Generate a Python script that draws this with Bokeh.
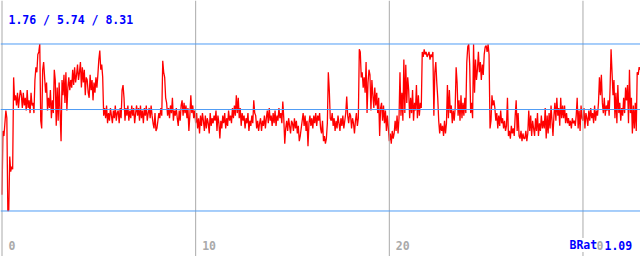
import numpy as np
from bokeh.plotting import figure
from bokeh.models import Range1d, Span, Label
from bokeh.embed import file_html
from bokeh.resources import INLINE

# BRat series, 20 samples per unit of x (step 0.05)
unit_values = [
    [2.4, 4.9, 4.7, 5.2, 5.7, 5.4, 1.76, 1.8, 3.9, 3.3, 3.5, 3.4, 7.0, 6.1, 6.3, 5.9, 6.4, 5.8, 6.2, 6.5],
    [6.3, 5.8, 6.4, 5.9, 6.2, 5.7, 6.5, 5.8, 6.1, 5.6, 6.4, 5.9, 6.0, 5.6, 6.9, 7.4, 7.2, 7.9, 8.0, 8.31],
    [5.3, 5.0, 7.3, 7.6, 7.0, 6.4, 6.8, 5.7, 6.2, 5.8, 6.5, 5.4, 6.1, 5.6, 7.3, 6.9, 5.1, 6.6, 5.3, 6.8],
    [5.6, 4.5, 6.9, 6.3, 7.1, 6.0, 7.2, 5.7, 6.6, 7.0, 6.5, 6.9, 6.6, 7.3, 6.7, 7.4, 6.8, 7.1, 7.5, 6.9],
    [7.2, 7.6, 6.6, 7.4, 6.8, 7.3, 6.3, 7.0, 6.9, 6.4, 6.2, 7.1, 6.5, 6.9, 6.1, 6.8, 6.4, 7.0, 6.6, 7.1],
    [7.7, 8.05, 7.3, 7.5, 7.0, 5.5, 5.8, 5.4, 5.9, 5.2, 5.6, 5.3, 5.8, 5.5, 5.2, 5.7, 5.4, 5.9, 5.3, 5.6],
    [5.7, 5.2, 5.8, 5.4, 6.5, 6.7, 6.2, 5.3, 5.8, 5.5, 5.9, 5.3, 5.7, 5.4, 5.9, 5.5, 5.8, 5.2, 5.6, 5.9],
    [5.5, 5.8, 5.3, 5.9, 5.4, 5.7, 5.2, 5.8, 5.5, 5.9, 5.3, 5.6, 5.8, 5.4, 5.9, 5.5, 5.2, 5.0, 5.6, 4.9],
    [5.0, 5.3, 5.6, 5.4, 5.8, 5.5, 7.65, 7.2, 7.0, 6.2, 6.0, 5.5, 5.8, 5.4, 5.9, 5.6, 6.2, 5.3, 5.7, 5.5],
    [5.8, 5.4, 5.1, 5.7, 5.3, 5.9, 6.1, 5.5, 6.0, 5.6, 5.9, 5.4, 5.8, 4.9, 5.5, 6.3, 5.6, 5.9, 5.4, 5.7],
    [5.2, 5.6, 5.0, 5.4, 4.8, 5.5, 5.1, 5.6, 5.3, 4.9, 5.5, 5.0, 5.4, 5.2, 4.8, 5.6, 5.1, 5.4, 5.2, 5.5],
    [5.3, 5.7, 4.9, 5.5, 5.2, 4.6, 5.3, 5.0, 5.5, 5.2, 5.6, 5.0, 5.4, 5.1, 5.7, 5.3, 5.5, 5.2, 5.8, 5.4],
    [5.9, 5.5, 6.3, 5.6, 6.2, 5.4, 5.8, 5.1, 5.6, 5.3, 5.5, 5.0, 5.4, 5.2, 5.6, 4.9, 5.3, 5.1, 5.5, 5.2],
    [6.1, 5.6, 5.5, 5.0, 5.3, 4.9, 5.2, 5.4, 4.9, 5.3, 5.1, 5.5, 5.0, 5.4, 5.7, 5.2, 5.8, 5.3, 5.5, 5.1],
    [5.6, 5.2, 5.7, 5.1, 5.5, 5.3, 5.8, 5.4, 5.6, 5.2, 6.05, 5.4, 4.4, 5.0, 5.3, 4.9, 5.4, 5.1, 4.8, 5.3],
    [5.2, 4.9, 5.4, 5.0, 5.3, 4.8, 5.1, 4.5, 4.7, 5.0, 5.3, 5.6, 5.1, 5.5, 4.9, 5.3, 4.3, 5.2, 5.5, 5.1],
    [5.4, 5.0, 5.5, 5.2, 5.6, 5.1, 5.5, 5.3, 5.6, 5.0, 4.8, 5.3, 4.5, 4.7, 4.4, 4.6, 5.2, 7.2, 6.5, 5.4],
    [5.3, 5.6, 5.1, 5.4, 4.9, 5.3, 5.0, 5.5, 5.2, 4.9, 5.4, 5.1, 5.5, 5.0, 5.3, 5.6, 6.25, 5.5, 5.2, 5.6],
    [5.5, 5.0, 5.4, 5.2, 4.8, 5.3, 5.6, 5.1, 5.4, 8.1, 8.0, 7.0, 7.2, 6.6, 7.0, 6.4, 7.6, 5.6, 6.8, 7.3],
    [7.1, 5.7, 6.9, 6.3, 5.8, 6.6, 5.9, 6.4, 5.6, 6.2, 4.7, 5.8, 6.0, 5.3, 5.9, 5.2, 5.7, 4.9, 5.5, 5.0],
    [4.5, 4.8, 4.4, 4.9, 4.6, 4.8, 5.3, 4.9, 5.5, 4.8, 5.4, 7.2, 5.5, 6.4, 5.3, 7.7, 5.6, 7.5, 6.0, 7.0],
    [6.5, 5.4, 6.2, 5.6, 6.5, 5.3, 6.0, 5.7, 6.7, 5.4, 6.3, 5.5, 6.0, 5.8, 8.0, 7.8, 8.1, 7.9, 8.0, 7.8],
    [7.9, 8.0, 7.7, 7.9, 7.8, 8.0, 5.5, 7.2, 7.6, 6.8, 6.2, 5.3, 4.8, 5.2, 4.9, 5.1, 4.7, 5.3, 4.8, 5.2],
    [6.7, 5.4, 6.5, 5.6, 5.9, 5.2, 5.7, 5.3, 5.8, 7.4, 6.8, 5.5, 6.1, 5.3, 6.3, 5.4, 6.0, 5.5, 6.2, 5.6],
    [7.6, 8.2, 8.3, 7.5, 5.6, 6.0, 5.4, 8.3, 6.4, 7.7, 6.9, 7.3, 8.0, 7.2, 7.6, 6.9, 7.5, 7.1, 7.9, 8.2],
    [8.25, 8.0, 8.3, 7.9, 5.0, 5.3, 6.3, 5.9, 6.1, 5.8, 5.3, 5.6, 5.0, 5.5, 5.1, 5.7, 5.2, 5.4, 5.0, 5.3],
    [4.9, 5.1, 6.2, 4.7, 4.9, 4.6, 5.1, 4.8, 5.0, 4.7, 5.5, 6.1, 4.9, 5.6, 4.7, 4.6, 4.9, 4.5, 4.8, 4.6],
    [4.6, 4.9, 4.5, 4.8, 5.7, 4.9, 5.5, 4.7, 5.3, 5.0, 4.7, 5.4, 4.9, 5.6, 4.7, 5.2, 4.9, 5.5, 5.0, 5.3],
    [5.0, 5.8, 4.6, 5.5, 4.8, 5.6, 5.0, 5.9, 5.3, 4.7, 5.5, 6.0, 5.3, 6.2, 5.5, 5.8, 5.1, 6.2, 5.4, 5.9],
    [5.4, 5.9, 5.2, 5.6, 5.2, 5.4, 5.1, 5.3, 5.0, 5.4, 5.2, 5.3, 5.1, 5.5, 6.2, 5.0, 5.7, 4.9, 5.9, 5.4],
    [5.3, 5.8, 5.0, 5.6, 5.4, 5.1, 5.7, 5.3, 5.8, 5.4, 5.6, 5.2, 5.9, 5.3, 5.7, 5.5, 6.0, 7.0, 6.3, 7.1],
    [6.0, 5.6, 6.2, 5.5, 5.9, 5.7, 6.1, 5.5, 6.6, 8.1, 7.2, 6.3, 6.9, 5.4, 6.4, 5.2, 6.7, 5.6, 6.0, 5.3],
    [5.8, 5.5, 6.2, 5.6, 6.6, 6.1, 6.7, 5.2, 7.3, 5.6, 6.2, 4.8, 5.9, 5.0, 6.0, 4.9, 7.2, 7.1, 7.4, 7.3],
]
x_step = 0.05
stat_min, stat_mean, stat_max = 1.76, 5.74, 8.31
stats_text = "1.76 / 5.74 / 8.31"
x_ticks = [0, 10, 20, 30]
tick_labels = ["0", "10", "20", "30"]
series_name = "BRat"
last_value = "1.09"

y = [v for row in unit_values for v in row]
x = [i * x_step for i in range(len(y))]

FONT = "DejaVu Sans Mono"
BLUE = "#0000ff"
GRID_GRAY = "#aaaaaa"
HLINE = "#4f9cf5"

p = figure(width=640, height=256, output_backend="svg", toolbar_location=None,
           x_range=Range1d(-0.0775, 32.97), y_range=Range1d(-0.025, 10.016),
           x_axis_location=None, y_axis_location=None, min_border=0)
p.min_border_left = p.min_border_right = p.min_border_top = p.min_border_bottom = 0
p.outline_line_color = None
p.xgrid.visible = False
p.ygrid.visible = False
p.background_fill_color = "white"
p.border_fill_color = "white"

p.line(x, y, line_color="#ff0000", line_width=1.3)

for t in x_ticks:
    p.add_layout(Span(location=t, dimension="height", line_color=GRID_GRAY, line_width=1))
for v in [stat_min, stat_mean, stat_max]:
    p.add_layout(Span(location=v, dimension="width", line_color=HLINE, line_width=1))

for t, lab in zip(x_ticks, tick_labels):
    p.add_layout(Label(x=t, y=11.5, x_units="data", y_units="screen", x_offset=6.5,
                       text=lab, text_font=FONT, text_font_size="11.5px",
                       text_font_style="bold", text_color=GRID_GRAY,
                       text_baseline="alphabetic"))

p.add_layout(Label(x=8, y=236.5, x_units="screen", y_units="screen", text=stats_text,
                   text_font=FONT, text_font_size="11.5px", text_font_style="bold",
                   text_color=BLUE, text_baseline="alphabetic"))

p.add_layout(Label(x=569, y=11.5, x_units="screen", y_units="screen", text=series_name,
                   text_font=FONT, text_font_size="11.5px", text_font_style="bold",
                   text_color=BLUE, text_baseline="alphabetic",
                   background_fill_color="white"))
p.add_layout(Label(x=604, y=11.5, x_units="screen", y_units="screen", text=last_value,
                   text_font=FONT, text_font_size="11.5px", text_font_style="bold",
                   text_color=BLUE, text_baseline="alphabetic"))

open("out.html", "w").write(file_html(p, INLINE))
